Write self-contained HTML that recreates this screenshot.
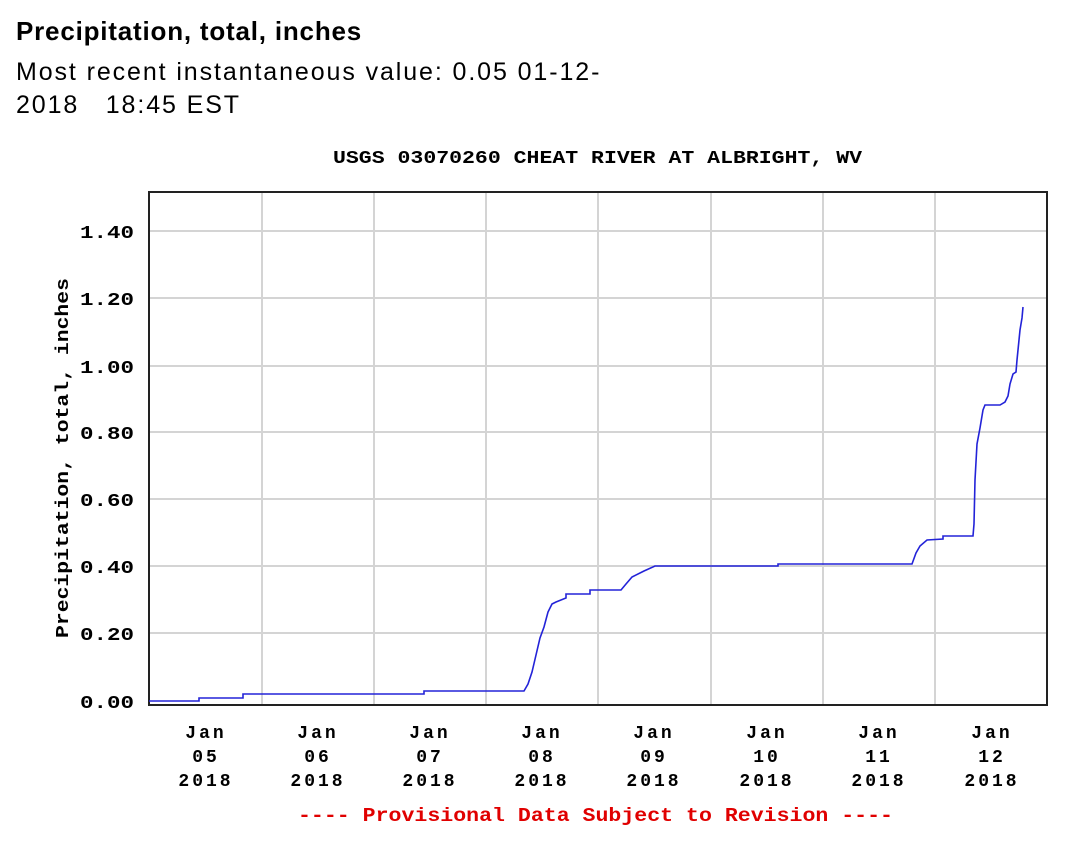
<!DOCTYPE html><html><head><style>
body{margin:0;width:1070px;height:854px;background:#fff;overflow:hidden;font-family:"Liberation Sans",sans-serif}
.h1{position:absolute;left:16px;top:16px;font-size:26px;font-weight:bold;letter-spacing:0.8px}
.h2{position:absolute;left:16px;top:56px;font-size:25px;line-height:33px;width:700px;letter-spacing:1.9px;white-space:nowrap}
</style></head><body>
<div class="h1">Precipitation, total, inches</div>
<div class="h2">Most recent instantaneous value: 0.05 01-12-<br>2018&nbsp;&nbsp; 18:45 EST</div>
<svg width="1070" height="854" style="position:absolute;left:0;top:0" font-family="Liberation Mono, monospace" font-weight="bold">
<text x="333" y="163" font-size="18" textLength="529" lengthAdjust="spacingAndGlyphs">USGS 03070260 CHEAT RIVER AT ALBRIGHT, WV</text>
<g stroke="#d4d4d4" stroke-width="2">
<line x1="149" x2="1046" y1="231" y2="231"/><line x1="149" x2="1046" y1="298" y2="298"/><line x1="149" x2="1046" y1="366" y2="366"/><line x1="149" x2="1046" y1="432" y2="432"/><line x1="149" x2="1046" y1="499" y2="499"/><line x1="149" x2="1046" y1="566" y2="566"/><line x1="149" x2="1046" y1="633" y2="633"/>
<line x1="262" x2="262" y1="193" y2="704"/><line x1="374" x2="374" y1="193" y2="704"/><line x1="486" x2="486" y1="193" y2="704"/><line x1="598" x2="598" y1="193" y2="704"/><line x1="711" x2="711" y1="193" y2="704"/><line x1="823" x2="823" y1="193" y2="704"/><line x1="935" x2="935" y1="193" y2="704"/>
</g>
<rect x="149" y="192" width="898" height="513" fill="none" stroke="#222" stroke-width="2"/>
<polyline fill="none" stroke="#2323d8" stroke-width="1.6" points="149,701 199,701 199,698 243,698 243,694 424,694 424,691 524,691 528,684 532,672 536,655 540,638 544,627 548,612 552,604 556,602 566,598 566,594 590,594 590,590 621,590 626,584 632,577 644,571 655,566 778,566 778,564 912,564 916,553 920,546 927,540 943,539 943,536 973,536 974,524 975,480 977,444 980,428 983,410 985,405 1000,405 1005,402 1008,396 1010,384 1013,374 1016,372 1017,360 1020,330 1022,318 1023,307"/>
<g font-size="18">
<text x="80" y="238" textLength="54" lengthAdjust="spacingAndGlyphs">1.40</text><text x="80" y="305" textLength="54" lengthAdjust="spacingAndGlyphs">1.20</text><text x="80" y="373" textLength="54" lengthAdjust="spacingAndGlyphs">1.00</text><text x="80" y="439" textLength="54" lengthAdjust="spacingAndGlyphs">0.80</text><text x="80" y="506" textLength="54" lengthAdjust="spacingAndGlyphs">0.60</text><text x="80" y="573" textLength="54" lengthAdjust="spacingAndGlyphs">0.40</text><text x="80" y="640" textLength="54" lengthAdjust="spacingAndGlyphs">0.20</text><text x="80" y="708" textLength="54" lengthAdjust="spacingAndGlyphs">0.00</text>
</g>
<text transform="translate(68,638) rotate(-90)" font-size="18" textLength="360" lengthAdjust="spacingAndGlyphs">Precipitation, total, inches</text>
<g font-size="18" text-anchor="middle" letter-spacing="3">
<text x="206" y="738">Jan</text><text x="206" y="762">05</text><text x="206" y="786">2018</text>
<text x="318" y="738">Jan</text><text x="318" y="762">06</text><text x="318" y="786">2018</text>
<text x="430" y="738">Jan</text><text x="430" y="762">07</text><text x="430" y="786">2018</text>
<text x="542" y="738">Jan</text><text x="542" y="762">08</text><text x="542" y="786">2018</text>
<text x="654" y="738">Jan</text><text x="654" y="762">09</text><text x="654" y="786">2018</text>
<text x="767" y="738">Jan</text><text x="767" y="762">10</text><text x="767" y="786">2018</text>
<text x="879" y="738">Jan</text><text x="879" y="762">11</text><text x="879" y="786">2018</text>
<text x="992" y="738">Jan</text><text x="992" y="762">12</text><text x="992" y="786">2018</text>
</g>
<text x="298" y="821" font-size="19" fill="#e00000" textLength="595" lengthAdjust="spacingAndGlyphs">---- Provisional Data Subject to Revision ----</text>
</svg>
</body></html>
